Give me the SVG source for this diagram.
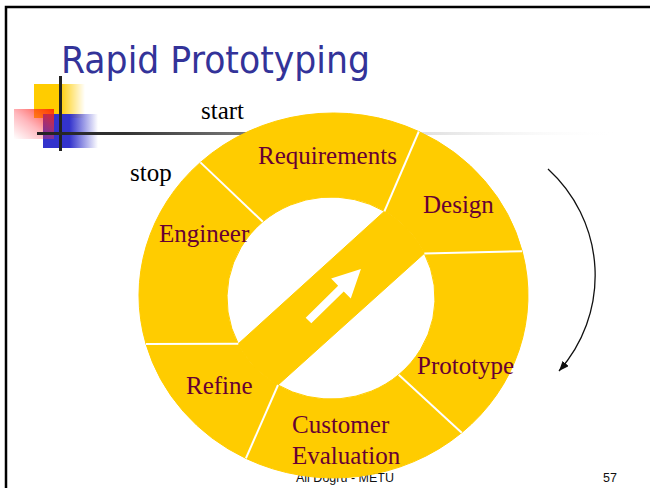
<svg xmlns="http://www.w3.org/2000/svg" width="650" height="488" viewBox="0 0 650 488">
  <defs>
    <style>
      .seg { fill: #FFCC00; stroke: #FFCC00; stroke-width: 1; }
      .lbl { font-family: "Liberation Serif", "Times New Roman", serif; font-size: 25px; fill: #660033; }
      .plain { font-family: "Liberation Serif", "Times New Roman", serif; font-size: 25px; fill: #000000; }
      .div { stroke: #FFFFFF; stroke-width: 2; fill: none; }
      .foot { font-family: "Liberation Sans", Arial, sans-serif; font-size: 12.5px; fill: #111111; }
    </style>
    <linearGradient id="gYellow" x1="0" y1="0" x2="1" y2="0">
      <stop offset="0" stop-color="#FFCC00"/>
      <stop offset="0.5" stop-color="#FFCC00"/>
      <stop offset="1" stop-color="#FFCC00" stop-opacity="0"/>
    </linearGradient>
    <linearGradient id="gBlue" x1="0" y1="0" x2="1" y2="0">
      <stop offset="0" stop-color="#3333CC"/>
      <stop offset="0.48" stop-color="#3333CC"/>
      <stop offset="1" stop-color="#3333CC" stop-opacity="0"/>
    </linearGradient>
    <linearGradient id="gPink" x1="1" y1="0" x2="0" y2="1">
      <stop offset="0" stop-color="#FF2200" stop-opacity="0.9"/>
      <stop offset="0.55" stop-color="#FF3344" stop-opacity="0.35"/>
      <stop offset="1" stop-color="#FF3344" stop-opacity="0"/>
    </linearGradient>
    <linearGradient id="gLine" gradientUnits="userSpaceOnUse" x1="37" y1="0" x2="620" y2="0">
      <stop offset="0" stop-color="#222222"/>
      <stop offset="0.15" stop-color="#333333"/>
      <stop offset="0.35" stop-color="#777777"/>
      <stop offset="0.65" stop-color="#DDDDDD"/>
      <stop offset="1" stop-color="#FFFFFF" stop-opacity="0"/>
    </linearGradient>
    <marker id="arrowHead" markerUnits="userSpaceOnUse" markerWidth="10" markerHeight="8" viewBox="0 0 10 8" refX="10" refY="4" orient="auto">
      <path d="M0,0 L10,4 L0,8 Z" fill="#111111"/>
    </marker>
  </defs>

  <rect x="0" y="0" width="650" height="488" fill="#FFFFFF"/>
  <rect x="6" y="7" width="700" height="600" fill="none" stroke="#000000" stroke-width="2.5"/>

  <text x="61" y="73" font-family="'DejaVu Sans', Tahoma, sans-serif" font-size="38" fill="#333399" textLength="309" lengthAdjust="spacingAndGlyphs">Rapid Prototyping</text>

  <g id="decoration">
    <rect x="34" y="84" width="51" height="34" fill="url(#gYellow)"/>
    <rect x="43" y="114" width="55" height="34" fill="url(#gBlue)"/>
    <rect x="14" y="109" width="40" height="30" fill="url(#gPink)"/>
    <line x1="60.5" y1="76" x2="60.5" y2="151" stroke="#222222" stroke-width="3"/>
    <line x1="37" y1="133.5" x2="620" y2="133.5" stroke="url(#gLine)" stroke-width="3"/>
  </g>

  <text class="foot" x="296" y="482">Ali Doğru - METU</text>
  <text class="foot" x="603" y="482">57</text>

  <g id="requirements">
    <path class="seg" d="M200.4,162.4 A194.5,182.5 0 0 1 418.8,131.5 L384.4,211.3 A104,101 0 0 0 262.8,221.8 Z"/>
    <text class="lbl" x="258" y="163.5">Requirements</text>
  </g>
  <g id="design">
    <path class="seg" d="M418.8,131.5 A194.5,182.5 0 0 1 522.2,251.3 L424.3,253.4 A104,101 0 0 0 384.4,211.3 Z"/>
    <text class="lbl" x="423" y="213">Design</text>
  </g>
  <g id="prototype">
    <path class="seg" d="M522.2,251.3 A194.5,182.5 0 0 1 461.7,432.7 L398.7,374.7 A104,101 0 0 0 424.3,253.4 Z"/>
    <text class="lbl" x="417" y="373.5">Prototype</text>
  </g>
  <g id="customer-evaluation">
    <path class="seg" d="M461.7,432.7 A194.5,182.5 0 0 1 245.9,458.4 L278,385 A104,101 0 0 0 398.7,374.7 Z"/>
    <text class="lbl" x="292" y="433">Customer</text>
    <text class="lbl" x="292" y="464">Evaluation</text>
  </g>
  <g id="refine">
    <path class="seg" d="M245.9,458.4 A194.5,182.5 0 0 1 146,344 L238.3,343.8 A104,101 0 0 0 278,385 Z"/>
    <text class="lbl" x="186" y="394">Refine</text>
  </g>
  <g id="engineer">
    <path class="seg" d="M146,344 A194.5,182.5 0 0 1 200.4,162.4 L262.8,221.8 A104,101 0 0 0 238.3,343.8 Z"/>
    <text class="lbl" x="159" y="241.5">Engineer</text>
  </g>
  <g id="iteration-band">
    <path class="seg" d="M238.3,343.8 L384.4,211.3 A104,101 0 0 1 424.3,253.4 L278,385 A104,101 0 0 1 238.3,343.8 Z"/>
    <polygon transform="translate(308.5,320.5) rotate(-44.5)" fill="#FFFFFF" points="0,-4 45.5,-4 45.5,-14 73.5,0 45.5,14 45.5,4 0,4"/>
  </g>

  <g id="dividers">
    <line class="div" x1="418.8" y1="131.5" x2="384.4" y2="211.3"/>
    <line class="div" x1="522.2" y1="251.3" x2="424.3" y2="253.4"/>
    <line class="div" x1="461.7" y1="432.7" x2="398.7" y2="374.7"/>
    <line class="div" x1="245.9" y1="458.4" x2="278" y2="385"/>
    <line class="div" x1="146" y1="344" x2="238.3" y2="343.8"/>
    <line class="div" x1="200.4" y1="162.4" x2="262.8" y2="221.8"/>
  </g>

  <text class="plain" x="201" y="119">start</text>
  <text class="plain" x="130" y="181">stop</text>

  <g id="connectors">
    <path d="M548,169 A144,144 0 0 1 559,371" fill="none" stroke="#111111" stroke-width="1.3" marker-end="url(#arrowHead)"/>
  </g>
</svg>
